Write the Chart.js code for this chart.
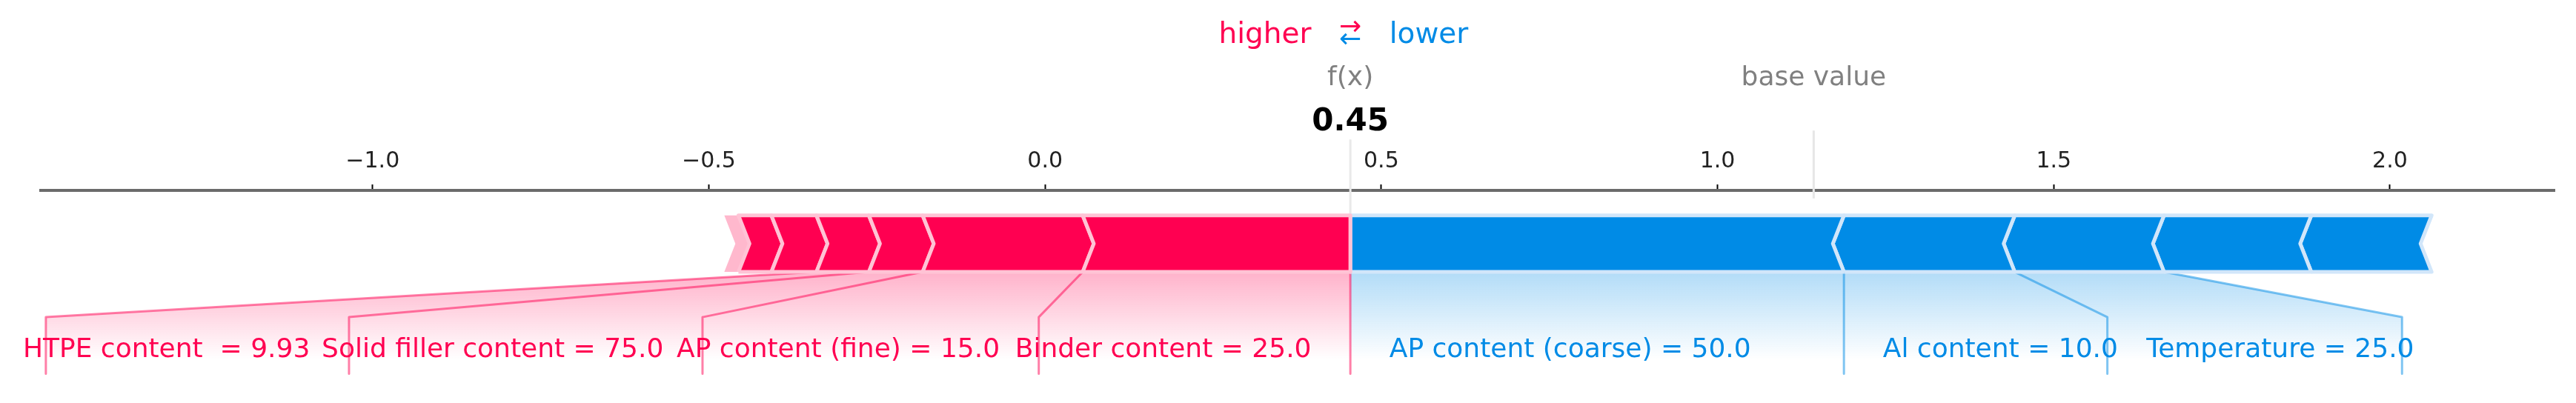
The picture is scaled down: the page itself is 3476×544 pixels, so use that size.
<!DOCTYPE html>
<html><head><meta charset="utf-8">
<script src="https://cdn.jsdelivr.net/npm/chart.js@4.4.1/dist/chart.umd.min.js"></script>
<style>html,body{margin:0;padding:0;background:#fff}#wrap{width:3476px;height:544px}</style>
</head><body><div id="wrap"><canvas id="c" width="3476" height="544"></canvas></div>
<script>
// ---------------- data ----------------
const outValue = 0.454;
const baseValue = 1.143;
const posFeatures = ["Binder content", "AP content (fine)", "Solid filler content", "HTPE content ", "", ""];
const posFeatureValues = ["25.0", "15.0", "75.0", "9.93", "", ""];
const posShap = [0.398, 0.238, 0.080, 0.078, 0.067, 0.049];
const negFeatures = ["AP content (coarse)", "Al content", "Temperature", "", ""];
const negFeatureValues = ["50.0", "10.0", "25.0", "", ""];
const negShap = [0.734, 0.254, 0.222, 0.219, 0.179];
const tickValues = [-1.0, -0.5, 0.0, 0.5, 1.0, 1.5, 2.0];
const xRange = [-1.4935, 2.2447];

// ---------------- styles ----------------
const RED = 'rgb(255,0,81)', BLUE = 'rgb(0,139,230)';
const RED_L = '#FFC3D5', BLUE_L = '#D1E6FA';
const RED_LINE = 'rgba(255,0,81,0.5)', BLUE_LINE = 'rgba(0,139,230,0.5)';
const BAR_H = 0.1, SEP = 0.0165, BAND = 0.021;
const LABEL_Y = -0.15, BEND_Y = -0.08, LINE_END = -0.18, SHADE_END = -0.2, FADE_END = -0.155;
const OFF = 0.058, INSET_R = 0.08, INSET_B = 0.045;
const LABEL_FONT = '36px "DejaVu Sans"';

Chart.defaults.font.family = '"DejaVu Sans", sans-serif';

const posBounds = [outValue];
posShap.forEach(v => posBounds.push(posBounds[posBounds.length - 1] - v));
const negBounds = [outValue];
negShap.forEach(v => negBounds.push(negBounds[negBounds.length - 1] + v));

function polyDS(points, fill, stroke, bw, order, extra) {
  return Object.assign({
    data: points.map(p => ({x: p[0], y: p[1]})),
    fill: fill ? 'shape' : false,
    backgroundColor: fill || 'transparent',
    borderColor: stroke || 'transparent',
    borderWidth: bw,
    pointRadius: 0, pointHitRadius: 0,
    borderJoinStyle: 'round',
    order: order, clip: false
  }, extra || {});
}

const datasets = [];
// reference lines (behind)
datasets.push(polyDS([[outValue, 0], [outValue, 0.24]], null, '#E9E9E9', 3, 9));
datasets.push(polyDS([[baseValue, 0.13], [baseValue, 0.25]], null, '#E6E6E6', 3, 9));

// positive (red) segments
for (let i = 0; i < posShap.length; i++) {
  const R = posBounds[i], L = posBounds[i + 1], m = BAR_H / 2;
  const pts = i === 0
    ? [[L, 0], [R, 0], [R, BAR_H], [L, BAR_H], [L + SEP, m], [L, 0]]
    : [[L, 0], [R, 0], [R + SEP, m], [R, BAR_H], [L, BAR_H], [L + SEP, m], [L, 0]];
  datasets.push(polyDS(pts, RED, RED_L, 5, 1));
}
{ // light band at the far left
  const L = posBounds[posBounds.length - 1], m = BAR_H / 2;
  datasets.push(polyDS([[L - BAND, 0], [L, 0], [L + SEP, m], [L, BAR_H], [L - BAND, BAR_H], [L - BAND + SEP, m], [L - BAND, 0]], '#FFB8CD', null, 0, 1));
}
// negative (blue) segments
for (let i = 0; i < negShap.length; i++) {
  const L = negBounds[i], R = negBounds[i + 1], m = BAR_H / 2;
  const pts = i === 0
    ? [[R, 0], [L, 0], [L, BAR_H], [R, BAR_H], [R - SEP, m], [R, 0]]
    : [[L, 0], [R, 0], [R - SEP, m], [R, BAR_H], [L, BAR_H], [L - SEP, m], [L, 0]];
  datasets.push(polyDS(pts, BLUE, BLUE_L, 5, 1));
}

function boxedText(ctx, text, x, y, font, color) {
  ctx.font = font;
  const w = ctx.measureText(text).width;
  ctx.fillStyle = '#fff';
  ctx.fillRect(x - w / 2 - 6, y - 40, w + 12, 52);
  ctx.fillStyle = color;
  ctx.textAlign = 'center';
  ctx.textBaseline = 'alphabetic';
  ctx.fillText(text, x, y);
}

const textPlugin = {
  id: 'shapText',
  afterDraw(chart) {
    const ctx = chart.ctx, xs = chart.scales.x, ys = chart.scales.y;
    ctx.save();
    // feature labels
    ctx.font = LABEL_FONT;
    ctx.textBaseline = 'alphabetic';
    const ly = ys.getPixelForValue(LABEL_Y);
    (chart.$labels || []).forEach(l => {
      ctx.fillStyle = l.color; ctx.textAlign = l.align;
      ctx.fillText(l.text, xs.getPixelForValue(l.x), ly);
    });
    // higher / lower
    const ox = xs.getPixelForValue(outValue);
    ctx.font = '39px "DejaVu Sans"';
    ctx.textBaseline = 'alphabetic';
    ctx.fillStyle = RED; ctx.textAlign = 'right';
    ctx.fillText('higher', xs.getPixelForValue(outValue - OFF), ys.getPixelForValue(0.405));
    ctx.fillStyle = BLUE; ctx.textAlign = 'left';
    ctx.fillText('lower', xs.getPixelForValue(outValue + OFF), ys.getPixelForValue(0.405));
    ctx.textAlign = 'center'; ctx.textBaseline = 'middle';
    ctx.font = '36px "DejaVu Sans"';
    ctx.fillStyle = RED; ctx.fillText('\u2192', ox, ys.getPixelForValue(0.431));
    ctx.fillStyle = BLUE; ctx.fillText('\u2190', ox, ys.getPixelForValue(0.409));
    // output / base
    boxedText(ctx, 'f(x)', ox, ys.getPixelForValue(0.33), '36px "DejaVu Sans"', '#808080');
    boxedText(ctx, 'base value', xs.getPixelForValue(baseValue), ys.getPixelForValue(0.33), '36px "DejaVu Sans"', '#808080');
    boxedText(ctx, outValue.toFixed(2), ox, ys.getPixelForValue(0.25), 'bold 42px "DejaVu Sans"', '#000');
    ctx.restore();
  }
};

const chart = new Chart(document.getElementById('c'), {
  type: 'line',
  data: {datasets: datasets},
  options: {
    responsive: false, animation: false, devicePixelRatio: 1,
    layout: {padding: {left: 55, right: 29, top: 187, bottom: 0}},
    plugins: {legend: {display: false}, tooltip: {enabled: false}, title: {display: false}},
    scales: {
      x: {
        type: 'linear', position: 'top', min: xRange[0], max: xRange[1], z: 1,
        afterBuildTicks: s => { s.ticks = tickValues.map(v => ({value: v})); },
        ticks: {
          includeBounds: false, autoSkip: false, maxRotation: 0, padding: 13,
          color: '#222', font: {size: 30, family: '"DejaVu Sans"'},
          callback: v => (v < 0 ? '\u2212' : '') + Math.abs(v).toFixed(1)
        },
        grid: {display: true, drawOnChartArea: false, drawTicks: true, tickLength: 8, tickColor: '#000', tickWidth: 2},
        border: {display: true, color: '#6b6b6b', width: 4}
      },
      y: {type: 'linear', display: false, min: -0.2286, max: 0.1442}
    }
  },
  plugins: [textPlugin]
});

// ---- label layout (uses the x scale & measured text widths) ----
(function layout() {
  const xs = chart.scales.x;
  const ppu = xs.getPixelForValue(1) - xs.getPixelForValue(0);
  const ctx = chart.ctx;
  ctx.save(); ctx.font = LABEL_FONT;
  const labels = [];
  const newDS = [];
  // positive side
  newDS.push(polyDS([[outValue, 0], [outValue, LINE_END]], null, RED_LINE, 3, 2));
  let start = outValue, lastVal = outValue, boxEnd = outValue;
  for (let i = 0; i < posFeatures.length; i++) {
    if (!posFeatures[i]) break;
    const val = posBounds[i + 1];
    const text = posFeatures[i] + ' = ' + posFeatureValues[i];
    const w = ctx.measureText(text).width / ppu;
    const right = start - OFF, left = right - w;
    if (left > val) {
      newDS.push(polyDS([[val, 0], [val, LINE_END]], null, RED_LINE, 3, 2));
      boxEnd = val;
    } else {
      boxEnd = left + INSET_R * w;
      newDS.push(polyDS([[val, 0], [boxEnd, BEND_Y], [boxEnd, LINE_END]], null, RED_LINE, 3, 2));
    }
    start = boxEnd; lastVal = val;
    labels.push({text: text, x: right, align: 'right', color: RED});
  }
  const redShade = [[outValue, 0], [lastVal, 0], [boxEnd, BEND_Y], [boxEnd, SHADE_END], [outValue, SHADE_END], [outValue, 0]];
  // negative side
  start = outValue; lastVal = outValue; boxEnd = outValue;
  for (let i = 0; i < negFeatures.length; i++) {
    if (!negFeatures[i]) break;
    const val = negBounds[i + 1];
    const text = negFeatures[i] + ' = ' + negFeatureValues[i];
    const w = ctx.measureText(text).width / ppu;
    const left = start + OFF, right = left + w;
    if (right < val) {
      newDS.push(polyDS([[val, 0], [val, LINE_END]], null, BLUE_LINE, 3, 2));
      boxEnd = val;
    } else {
      boxEnd = right - INSET_B * w;
      newDS.push(polyDS([[val, 0], [boxEnd, BEND_Y], [boxEnd, LINE_END]], null, BLUE_LINE, 3, 2));
    }
    start = boxEnd; lastVal = val;
    labels.push({text: text, x: left, align: 'left', color: BLUE});
  }
  const blueShade = [[outValue, 0], [lastVal, 0], [boxEnd, BEND_Y], [boxEnd, SHADE_END], [outValue, SHADE_END], [outValue, 0]];
  ctx.restore();
  const grad = (rgb) => (c) => {
    const ch = c.chart; if (!ch.chartArea) return 'transparent';
    const ys = ch.scales.y;
    const g = ch.ctx.createLinearGradient(0, ys.getPixelForValue(0), 0, ys.getPixelForValue(FADE_END));
    g.addColorStop(0, 'rgba(' + rgb + ',0.3)');
    g.addColorStop(1, 'rgba(' + rgb + ',0)');
    return g;
  };
  newDS.push(polyDS(redShade, grad('255,0,81'), null, 0, 5));
  newDS.push(polyDS(blueShade, grad('0,139,230'), null, 0, 5));
  chart.$labels = labels;
  newDS.forEach(d => chart.data.datasets.push(d));
  chart.update('none');
})();
</script></body></html>
